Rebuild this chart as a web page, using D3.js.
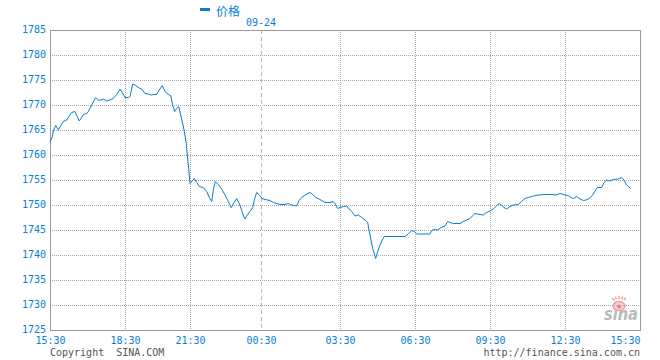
<!DOCTYPE html>
<html><head><meta charset="utf-8">
<script src="https://cdn.jsdelivr.net/npm/d3@7"></script>
<style>html,body{margin:0;padding:0;background:#fff;}svg{display:block;}</style>
</head><body>
<script>
// ---- data ----
const seriesName = "价格";
const dateLabel = "09-24";
const tickLabels = ["15:30","18:30","21:30","00:30","03:30","06:30","09:30","12:30","15:30"];
const tickSlots  = [0, 75, 140, 211, 290, 365, 440, 515, 590];   // trading-slot index of each label
const slotCount = 590;
const dayBreakSlot = 211;
const yTicks = [1725,1730,1735,1740,1745,1750,1755,1760,1765,1770,1775,1780,1785];
const slots = [0,2.3,3.3,5.7,8.3,11,13.3,16.7,19,21.7,25,26.7,29.3,31,33.3,36.7,38.3,41.7,45.7,48.3,51,53.3,56.7,60,63.3,66.7,70,72.3,75,78.3,80,82.7,85.7,88.3,91.7,95,98.3,101.7,103.3,106.7,109.3,112.3,115,118.3,120.7,122.7,124.7,126.7,128.7,130.7,132.7,134.3,136,137.3,138.7,140,142,144.3,146.7,149.3,153.3,156.7,159.3,161.7,163.3,165.3,168.3,171.7,175,178.3,181.3,184,186.7,189.3,192,194.7,197.3,200,202.7,204.7,206.7,209.3,212,215,220,223.3,226.7,230,235,238.3,241.7,246.7,249,251.7,255,257.7,260,262.3,265.7,269,271.7,275,280,283.3,285,287.7,290,293.3,296.7,298.3,301.7,305,308.3,311.7,315,317.7,319,321,322.7,325.7,327.7,330,332.3,334.3,355,358.3,361.7,364.3,366.7,380,381.7,384,387.7,391,395,397.7,400,403.3,410,413.3,416.7,420,422.3,425,430,433.3,436.7,440,444,446.7,449.3,451.7,454,456.7,460,463.3,468.3,471.7,475,478.3,483.3,488.3,495,501.7,506,510,515,518.3,521,523.3,526.7,530,533.3,536,539.3,542.7,545,547.3,551.7,554,556.7,560,563.3,568.3,571.7,573.3,576.7,580.7];
const prices = [1762.6,1763.7,1764.8,1765.9,1765.0,1766.0,1766.7,1767.0,1767.7,1768.5,1768.7,1767.9,1766.8,1767.3,1768.1,1768.3,1768.7,1770.0,1771.5,1771.0,1771.0,1771.2,1770.8,1771.0,1771.3,1772.1,1773.2,1772.5,1771.5,1771.5,1771.7,1774.2,1773.9,1773.5,1773.2,1772.3,1772.2,1772.0,1772.1,1772.1,1773.0,1773.9,1772.7,1772.1,1771.9,1770.0,1768.7,1769.3,1769.7,1768.0,1766.3,1764.7,1762.7,1760.0,1757.3,1754.3,1754.8,1755.3,1754.5,1753.7,1753.5,1752.7,1751.5,1750.7,1753.0,1754.7,1754.1,1753.2,1752.0,1750.7,1749.5,1750.5,1751.3,1750.3,1748.7,1747.2,1748.0,1748.7,1749.5,1751.3,1752.5,1752.0,1751.3,1751.1,1750.9,1750.5,1750.3,1750.1,1750.1,1750.3,1750.0,1749.8,1750.9,1751.5,1752.0,1752.3,1752.5,1752.2,1751.5,1751.2,1750.9,1750.5,1750.5,1750.7,1750.3,1749.3,1749.5,1749.7,1749.8,1749.4,1748.7,1747.8,1748.0,1747.5,1747.0,1746.5,1745.0,1743.0,1741.3,1739.3,1740.7,1742.0,1743.0,1743.7,1743.7,1744.2,1744.9,1744.7,1744.2,1744.2,1744.9,1745.1,1745.0,1745.5,1745.8,1746.7,1746.5,1746.3,1746.3,1746.7,1747.0,1747.3,1747.8,1748.3,1748.1,1748.0,1748.5,1748.8,1749.3,1749.9,1750.3,1749.9,1749.5,1749.2,1749.7,1750.0,1750.1,1750.7,1751.3,1751.5,1751.8,1752.0,1752.1,1752.1,1752.0,1752.3,1752.0,1751.9,1751.5,1751.3,1751.7,1751.2,1750.9,1751.0,1751.3,1752.0,1752.8,1753.5,1753.5,1754.5,1755.0,1754.8,1755.1,1755.2,1755.5,1755.2,1754.0,1753.3];

// ---- layout ----
const W = 660, H = 360;
const m = {left:50, right:20, top:30, bottom:30};
const blue = "#0a7ccd", labelBlue = "#0880d8";
const mono = "'DejaVu Sans Mono', monospace";

const svg = d3.select("body").append("svg").attr("width",W).attr("height",H);
const x = d3.scaleLinear().domain([0, slotCount]).range([m.left, W - m.right]);
const y = d3.scaleLinear().domain([d3.min(yTicks), d3.max(yTicks)]).range([H - m.bottom, m.top]);
const px = v => Math.round(v) + 0.5;

// watermark (behind everything)
const wm = svg.append("g");
wm.append("text").attr("x", 604).attr("y", 320).text("sina")
  .attr("fill", "#bbb").attr("font-family", "'DejaVu Sans', sans-serif").attr("font-weight", "bold")
  .attr("font-style", "italic").attr("font-size", 17)
  .attr("textLength", 34).attr("lengthAdjust", "spacingAndGlyphs");
wm.append("ellipse").attr("cx", 619).attr("cy", 306).attr("rx", 6).attr("ry", 4.5)
  .attr("fill", "#fbd0d0").attr("stroke", "#f4a0a0").attr("stroke-width", 1.5);
wm.append("circle").attr("cx", 619).attr("cy", 306.5).attr("r", 2).attr("fill", "#e88080");
wm.selectAll("line.lash").data([-50, -25, 0, 25, 50]).join("line")
  .attr("x1", d => 619 + 6 * Math.sin(d * Math.PI / 180)).attr("y1", d => 302 - 3 * Math.cos(d * Math.PI / 180))
  .attr("x2", d => 619 + 9 * Math.sin(d * Math.PI / 180)).attr("y2", d => 302 - 6 * Math.cos(d * Math.PI / 180))
  .attr("stroke", "#f4a0a0").attr("stroke-width", 1.5);

// grid
const g = svg.append("g");
g.selectAll("line.h").data(yTicks.slice(1, -1)).join("line")
  .attr("x1", x(0)).attr("x2", x(slotCount))
  .attr("y1", d => px(y(d))).attr("y2", d => px(y(d)))
  .attr("stroke", "#aaa").attr("stroke-dasharray", "1,1");
g.selectAll("line.v").data(tickSlots.slice(1, -1)).join("line")
  .attr("x1", d => px(x(d))).attr("x2", d => px(x(d)))
  .attr("y1", y.range()[1]).attr("y2", y.range()[0])
  .attr("stroke", d => d === dayBreakSlot ? "#bbb" : "#aaa")
  .attr("stroke-dasharray", d => d === dayBreakSlot ? "4,3" : "1,1");

// frame
svg.append("rect")
  .attr("x", px(x(0))).attr("y", px(y.range()[1]))
  .attr("width", Math.round(x(slotCount) - x(0))).attr("height", Math.round(y.range()[0] - y.range()[1]))
  .attr("fill", "none").attr("stroke", "#999");

// y axis
const yAxis = d3.axisLeft(y).tickValues(yTicks).tickSize(0).tickPadding(4).tickFormat(d3.format("d"));
const ya = svg.append("g").attr("transform", `translate(${x(0)},0)`).call(yAxis);
ya.select(".domain").remove();
ya.selectAll("text").attr("fill", labelBlue).attr("font-family", mono).attr("font-size", 10).attr("dy", "0.2em");

// x axis
const xAxis = d3.axisBottom(x).tickValues(tickSlots).tickSize(0).tickPadding(7)
  .tickFormat((d, i) => tickLabels[i]);
const xa = svg.append("g").attr("transform", `translate(0,${y.range()[0]})`).call(xAxis);
xa.select(".domain").remove();
xa.selectAll("text").attr("fill", labelBlue).attr("font-family", mono).attr("font-size", 10)
  .attr("text-anchor", (d, i) => i === tickSlots.length - 1 ? "end" : "middle");

// line
const pts = slots.map((s, i) => [s, prices[i]]);
svg.append("path").datum(pts)
  .attr("fill", "none").attr("stroke", blue).attr("stroke-width", 1)
  .attr("d", d3.line().x(d => x(d[0])).y(d => y(d[1])));

// legend
svg.append("rect").attr("x", 200).attr("y", 8).attr("width", 10).attr("height", 3).attr("fill", blue);
svg.append("text").attr("x", 216).attr("y", 16).text(seriesName)
  .attr("fill", labelBlue).attr("font-family", "'Noto Sans CJK SC', sans-serif").attr("font-size", 12);
svg.append("text").attr("x", x(dayBreakSlot)).attr("y", 26).attr("text-anchor", "middle").text(dateLabel)
  .attr("fill", labelBlue).attr("font-family", mono).attr("font-size", 10);

// footer
svg.append("text").attr("x", x(0)).attr("y", 356).text("Copyright  SINA.COM")
  .attr("fill", "#555").attr("font-family", mono).attr("font-size", 10)
  .style("white-space", "pre");
svg.append("text").attr("x", x(slotCount)).attr("y", 356).attr("text-anchor", "end").text("http://finance.sina.com.cn")
  .attr("fill", "#555").attr("font-family", mono).attr("font-size", 10);
</script>
</body></html>
